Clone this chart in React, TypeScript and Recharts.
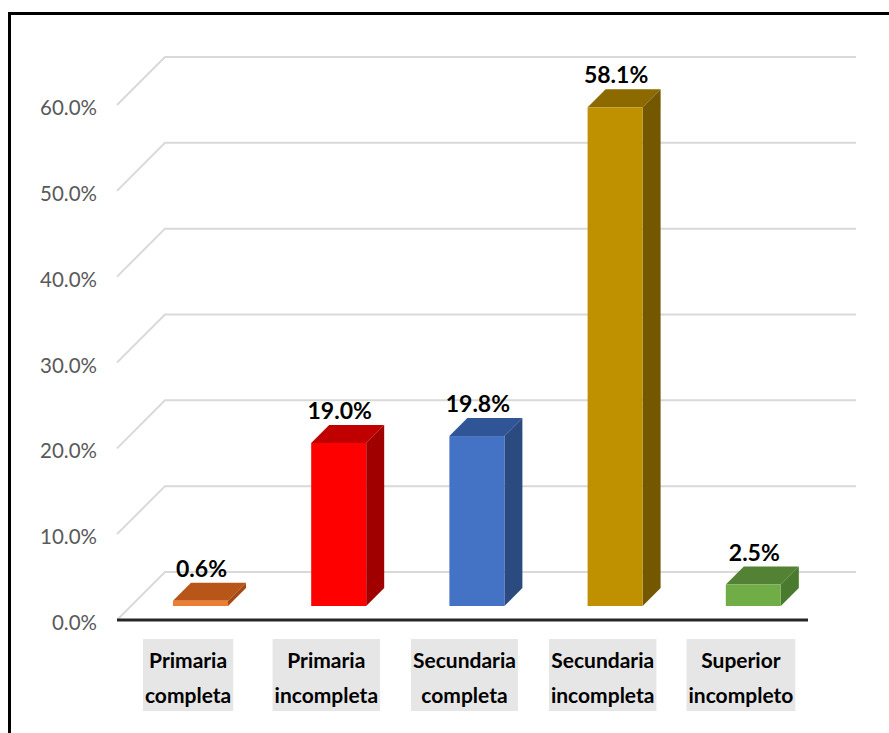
import React from "react"
import { BarChart, Bar, XAxis, YAxis, CartesianGrid, LabelList } from "recharts"

const categories = [
  "Primaria completa",
  "Primaria incompleta",
  "Secundaria completa",
  "Secundaria incompleta",
  "Superior incompleto",
]
const values = [0.6, 19.0, 19.8, 58.1, 2.5]
const yTicks = [0, 10, 20, 30, 40, 50, 60]

const frontColors = ["#ED7D31", "#FF0000", "#4472C4", "#BF9000", "#70AD47"]
const topColors = ["#B8561A", "#C00000", "#2F5597", "#8C6A00", "#548235"]
const sideColors = ["#A34A14", "#A00000", "#2A4A80", "#735800", "#4A7A2E"]

const data = categories.map((name, i) => ({ name, value: values[i], idx: i }))

// pseudo-3D: front of the floor sits FRONT px in front of the bars, back wall BACK px behind
const FRONT = 14
const BACK = 34
const BAR_DEPTH = 18

const TEXT_FONT = "Lato, 'Noto Sans', sans-serif"

function measure(text: string, font: string) {
  const c = document.createElement("canvas").getContext("2d")
  if (!c) return text.length * 10
  c.font = font
  return c.measureText(text).width
}

const GridLine = (props: any) => {
  const { x1, x2, y1, index } = props
  const y = y1
  const isBase = Math.abs(y - 606) < 1
  return (
    <g key={`g-${index}`}>
      <path
        d={`M${x1 - FRONT},${y + FRONT} L${x1 + BACK},${y - BACK} L${x2 + BACK},${y - BACK}`}
        fill="none"
        stroke="#D9D9D9"
        strokeWidth={2}
      />
      {isBase && (
        <line x1={x1 - FRONT} y1={y + FRONT} x2={x2 - FRONT} y2={y + FRONT} stroke="#262626" strokeWidth={3} />
      )}
    </g>
  )
}

const Bar3D = (props: any) => {
  const { x, y, width, height, index } = props
  const d = BAR_DEPTH
  return (
    <g>
      <polygon
        points={`${x},${y} ${x + d},${y - d} ${x + width + d},${y - d} ${x + width},${y}`}
        fill={topColors[index]}
      />
      <polygon
        points={`${x + width},${y} ${x + width + d},${y - d} ${x + width + d},${y + height - d} ${x + width},${y + height}`}
        fill={sideColors[index]}
      />
      <rect x={x} y={y} width={width} height={height} fill={frontColors[index]} />
    </g>
  )
}

const YTick = (props: any) => {
  const { x, y, payload } = props
  return (
    <text
      x={x - FRONT - 20}
      y={y + FRONT + 2}
      textAnchor="end"
      dominantBaseline="central"
      fill="#595959"
      fontSize={20.5}
      fontFamily={TEXT_FONT}
    >
      {`${Number(payload.value).toFixed(1)}%`}
    </text>
  )
}

const XTick = (props: any) => {
  const { x, y, payload } = props
  const [l1, ...rest] = String(payload.value).split(" ")
  const l2 = rest.join(" ")
  const font = `bold 21px ${TEXT_FONT}`
  const w = Math.max(measure(l1, font), measure(l2, font)) + 4
  const cx = x - FRONT + 2
  return (
    <g>
      <rect x={cx - w / 2} y={y + 33} width={w} height={72} fill="#E7E6E6" />
      <text x={cx} y={y + 53} textAnchor="middle" dominantBaseline="central" fontSize={21} fontWeight="bold" fill="#000" fontFamily={TEXT_FONT}>
        {l1}
      </text>
      <text x={cx} y={y + 88} textAnchor="middle" dominantBaseline="central" fontSize={21} fontWeight="bold" fill="#000" fontFamily={TEXT_FONT}>
        {l2}
      </text>
    </g>
  )
}

const ValueLabel = (props: any) => {
  const { x, y, width, value } = props
  return (
    <text
      x={x + width / 2 + 1}
      y={y - BAR_DEPTH - 6}
      textAnchor="middle"
      fontSize={23}
      fontWeight="bold"
      fill="#000"
      fontFamily={TEXT_FONT}
    >
      {`${Number(value).toFixed(1)}%`}
    </text>
  )
}

export default function App() {
  return (
    <div style={{ position: "absolute", left: 0, top: 0, width: 889, height: 733, overflow: "hidden", background: "#fff" }}>
      <div style={{ position: "absolute", left: 8, top: 12, width: 950, height: 850, border: "3px solid #000" }} />
      <div style={{ position: "absolute", left: 0, top: 0 }}>
        <BarChart
          width={889}
          height={733}
          data={data}
          margin={{ top: 91, right: 67, left: 71, bottom: 97 }}
          barCategoryGap={0}
        >
          <CartesianGrid vertical={false} horizontal={GridLine} />
          <XAxis dataKey="name" height={30} axisLine={false} tickLine={false} tickSize={0} tickMargin={0} tick={XTick} interval={0} />
          <YAxis
            width={60}
            domain={[0, 60]}
            ticks={yTicks}
            axisLine={false}
            tickLine={false}
            tickSize={0}
            tickMargin={0}
            tick={YTick}
          />
          <Bar dataKey="value" barSize={55} shape={Bar3D} isAnimationActive={false}>
            <LabelList dataKey="value" content={ValueLabel} />
          </Bar>
        </BarChart>
      </div>
    </div>
  )
}
